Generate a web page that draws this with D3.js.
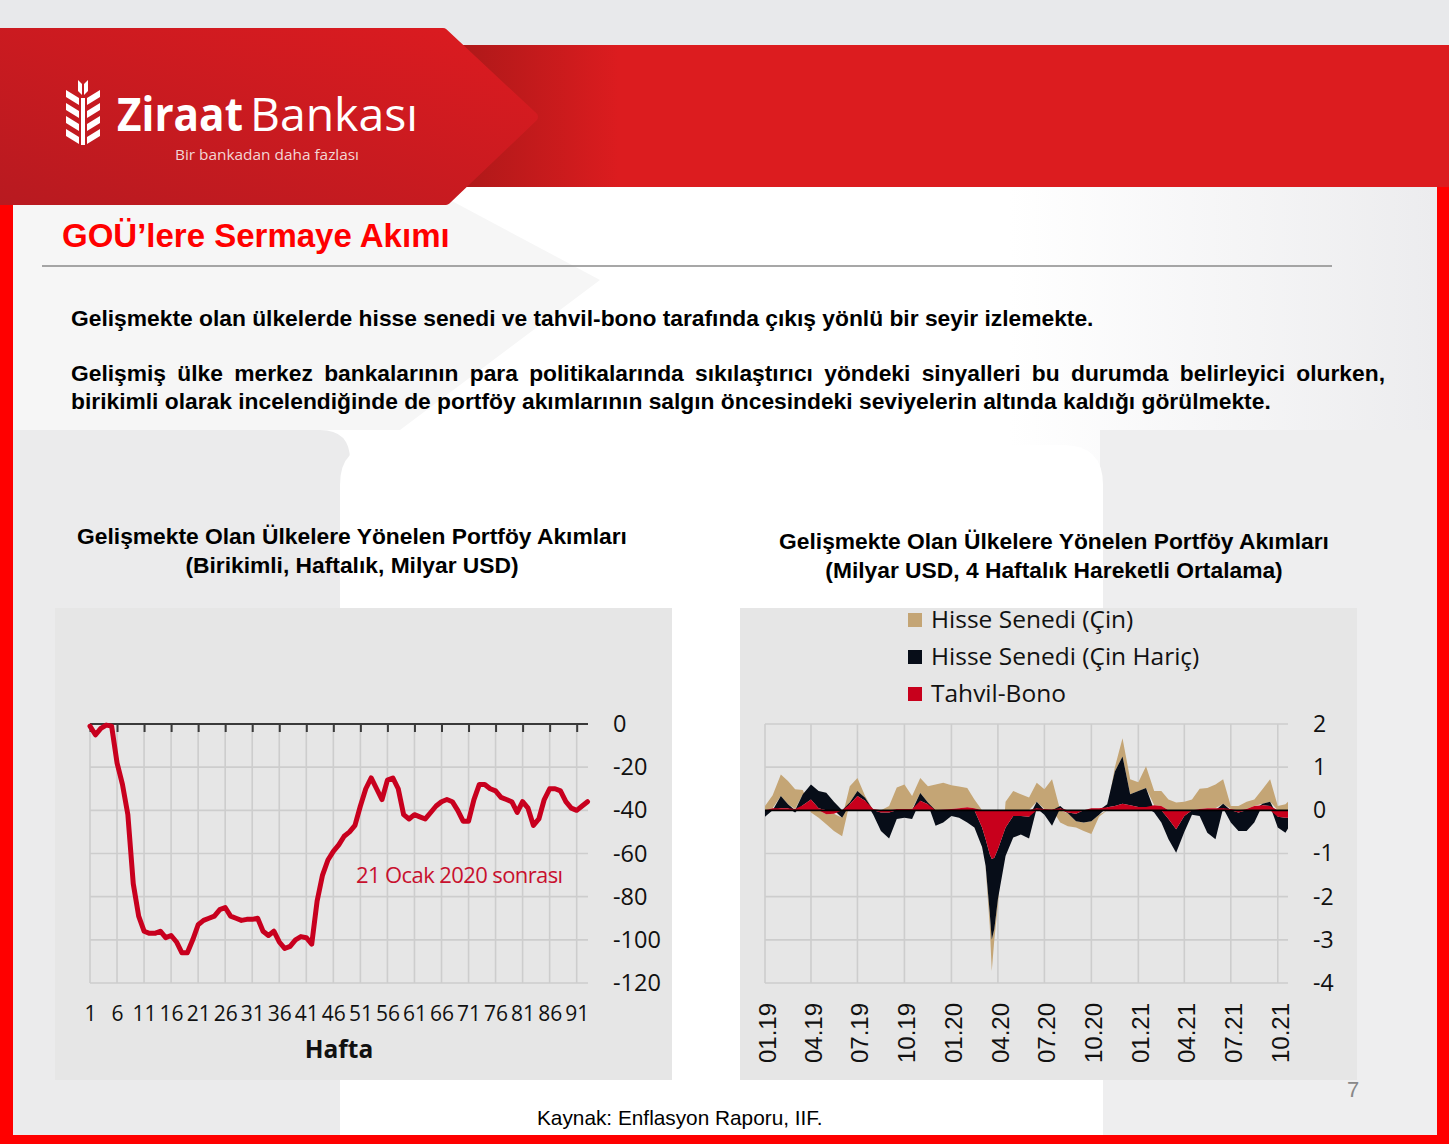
<!DOCTYPE html>
<html><head><meta charset="utf-8">
<script src="https://cdn.jsdelivr.net/npm/d3@7"></script>
<style>body{margin:0;background:#e8e9eb;} svg{display:block;}</style>
</head><body><svg id="s" width="1449" height="1144"></svg>
<script>
// ---------- DATA ----------
const pageTitle = "GOÜ’lere Sermaye Akımı";
const bodyLine1 = "Gelişmekte olan ülkelerde hisse senedi ve tahvil-bono tarafında çıkış yönlü bir seyir izlemekte.";
const bodyPara2a = "Gelişmiş ülke merkez bankalarının para politikalarında sıkılaştırıcı yöndeki sinyalleri bu durumda belirleyici olurken,";
const bodyPara2b = "birikimli olarak incelendiğinde de portföy akımlarının salgın öncesindeki seviyelerin altında kaldığı görülmekte.";
const leftTitle = ["Gelişmekte Olan Ülkelere Yönelen Portföy Akımları", "(Birikimli, Haftalık, Milyar USD)"];
const rightTitle = ["Gelişmekte Olan Ülkelere Yönelen Portföy Akımları", "(Milyar USD, 4 Haftalık Hareketli Ortalama)"];

// Left chart: cumulative weekly flows (weeks 1..93)
const cumulativeFlows = [-1,-5,-2,-0.5,-1,-18,-28,-42,-74,-89,-96,-97,-97,-96,-99,-98,-101,-106,-106,-100,
  -93,-91,-90,-89,-86,-85,-89,-90,-91,-90.5,-90.5,-90,-96,-98,-96,-101,-104,-103,-100,-98.5,
  -99,-102,-82,-70,-63,-59,-56,-52,-50,-47,-38,-30,-25,-30,-35,-26,-25,-30,-42,-44,
  -42,-43,-44,-41,-38,-36,-35,-36,-40,-45,-45,-35,-28,-28,-30,-31,-34,-35,-36,-41,
  -36,-39,-47,-44,-35,-30,-30,-31,-36,-39,-40,-38,-36];
const weekTicks = [1,6,11,16,21,26,31,36,41,46,51,56,61,66,71,76,81,86,91];
const leftYTicks = [0,-20,-40,-60,-80,-100,-120];
const annotation = "21 Ocak 2020 sonrası";
const leftXTitle = "Hafta";

// Right chart: 4-week moving average flows
const flowDates = ["2019-01-01","2019-01-16","2019-02-01","2019-02-15","2019-03-01","2019-03-16","2019-04-01","2019-04-16",
  "2019-05-01","2019-05-16","2019-06-01","2019-06-16","2019-07-01","2019-07-16","2019-08-01","2019-08-16",
  "2019-09-01","2019-09-16","2019-10-01","2019-10-16","2019-11-01","2019-11-16","2019-12-01","2019-12-16",
  "2020-01-01","2020-01-16","2020-02-01","2020-02-15","2020-03-01","2020-03-08","2020-03-16","2020-03-20",
  "2020-03-25","2020-04-01","2020-04-16","2020-05-01","2020-05-16","2020-06-01","2020-06-16","2020-07-01",
  "2020-07-16","2020-08-01","2020-08-16","2020-09-01","2020-09-16","2020-10-01","2020-10-16","2020-11-01",
  "2020-11-16","2020-12-01","2020-12-16","2021-01-01","2021-01-16","2021-02-01","2021-02-15","2021-03-01",
  "2021-03-16","2021-04-01","2021-04-16","2021-05-01","2021-05-16","2021-06-01","2021-06-16","2021-07-01",
  "2021-07-16","2021-08-01","2021-08-16","2021-09-01","2021-09-16","2021-10-01","2021-10-16","2021-10-21"];
const bondFlows = [0,0.05,0.05,0.05,0.03,0.12,0.25,0.05,-0.09,-0.08,0,0.14,0.33,0.22,0.03,-0.05,
  -0.05,0.03,0.03,0.03,0.22,0.14,0,0.02,0.03,0.05,0.07,0.05,-0.4,-0.67,-1.02,-1.13,
  -1.1,-0.9,-0.4,-0.13,-0.13,-0.15,0.05,0.03,0.02,0.05,-0.05,-0.08,0,0.05,0.05,0.07,
  0.1,0.15,0.12,0.08,0.08,0.12,0.1,-0.2,-0.44,-0.13,0,0.03,0.05,0.05,0.05,0.03,
  -0.05,0.03,0.1,0.12,0.1,-0.15,-0.17,-0.17];
const equityExChina = [-0.15,0,0.28,0.09,-0.05,0.25,0.35,0.4,0.41,0.2,-0.17,0.04,0.12,0.07,-0.1,-0.43,
  -0.6,-0.2,-0.17,-0.2,0.18,0.04,-0.36,-0.28,-0.13,-0.17,-0.28,-0.4,-0.45,-0.62,-1.35,-1.87,
  -1.65,-1.16,-0.66,-0.5,-0.43,-0.5,0.15,-0.1,-0.36,0.05,-0.02,-0.17,-0.28,-0.25,-0.1,0.07,
  0.8,1.1,0.25,0.37,0.44,-0.05,-0.28,-0.47,-0.54,-0.37,-0.1,-0.13,-0.52,-0.67,0.1,-0.28,
  -0.43,-0.48,-0.28,0.03,0.1,-0.25,-0.35,-0.25];
const equityChina = [0.1,0.3,0.5,0.54,0.46,0.1,-0.05,-0.17,-0.23,-0.4,-0.43,0.38,0.3,0.04,0,0,
  0.1,0.5,0.57,0.3,0.35,0.38,0.6,0.62,0.55,0.5,0.45,0.2,0,-0.05,-0.3,-0.72,
  -0.25,-0.14,0.2,0.45,0.37,0.3,0.44,0.46,0.7,-0.28,-0.3,-0.15,-0.2,-0.3,-0.05,0,
  0.1,0.42,0.35,0.2,0.5,0.33,0.35,0.25,0.18,0.2,0.25,0.47,0.47,0.55,0.57,0.07,
  0.1,0.17,0.15,0.34,0.52,0.1,0.14,0.2];
const quarterDates = ["2019-01-01","2019-04-01","2019-07-01","2019-10-01","2020-01-01","2020-04-01",
  "2020-07-01","2020-10-01","2021-01-01","2021-04-01","2021-07-01","2021-10-01"];
const quarterLabels = ["01.19","04.19","07.19","10.19","01.20","04.20","07.20","10.20","01.21","04.21","07.21","10.21"];
const rightYTicks = [2,1,0,-1,-2,-3,-4];
const seriesNames = ["Hisse Senedi (Çin)", "Hisse Senedi (Çin Hariç)", "Tahvil-Bono"];
const seriesColors = ["#c4a575", "#070d18", "#c8001c"];
const sourceText = "Kaynak: Enflasyon Raporu, IIF.";
const pageNumber = "7";

// ---------- DRAW ----------
const svg = d3.select('#s');
const defs = svg.append('defs');
const lg = defs.append('linearGradient').attr('id','logoGrad').attr('x1','0').attr('y1','1').attr('x2','1').attr('y2','0');
lg.append('stop').attr('offset','0').attr('stop-color','#b81a20');
lg.append('stop').attr('offset','1').attr('stop-color','#dc1b20');
const bg = defs.append('linearGradient').attr('id','bandGrad').attr('x1','0').attr('x2','1').attr('y1','0').attr('y2','0');
bg.append('stop').attr('offset','0').attr('stop-color','#a51818');
bg.append('stop').attr('offset','1').attr('stop-color','#dc1c1f');
const cg = defs.append('linearGradient').attr('id','contentGrad').attr('x1','0').attr('x2','1').attr('y1','0').attr('y2','0');
cg.append('stop').attr('offset','0').attr('stop-color','#ffffff');
cg.append('stop').attr('offset','0.7').attr('stop-color','#ffffff');
cg.append('stop').attr('offset','1').attr('stop-color','#ececee');

svg.append('rect').attr('width',1449).attr('height',1144).attr('fill','#e8e9eb');
// red banner
svg.append('rect').attr('x',430).attr('y',45).attr('width',1019).attr('height',142).attr('fill','#dc1c1f');
svg.append('rect').attr('x',430).attr('y',45).attr('width',190).attr('height',142).attr('fill','url(#bandGrad)');
// frame
svg.append('rect').attr('x',0).attr('y',187).attr('width',1449).attr('height',957).attr('fill','#ff0000');
svg.append('rect').attr('x',13).attr('y',187).attr('width',1424).attr('height',948).attr('fill','url(#contentGrad)');
// decorative background shapes
svg.append('polygon').attr('points','13,300 13,430 400,430 600,280 450,200 13,200').attr('fill','#f6f6f6');
svg.append('path').attr('d','M13,430 H320 Q350,430 350,460 V1135 H13 Z').attr('fill','#ebebec');
svg.append('rect').attr('x',1100).attr('y',430).attr('width',337).attr('height',705).attr('fill','#eeeeef');
svg.append('path').attr('d','M340,1135 V485 Q340,445 380,445 H1063 Q1103,445 1103,485 V1135 Z').attr('fill','#ffffff');

// logo shape
svg.append('path').attr('d','M-10,33 L443,33 L533,117 L446,200 L-10,200 Z')
  .attr('fill','url(#logoGrad)').attr('stroke','url(#logoGrad)').attr('stroke-width',10).attr('stroke-linejoin','round');
// wheat icon
const icon = svg.append('g').attr('fill','#ffffff');
icon.append('rect').attr('x',81).attr('y',98).attr('width',4).attr('height',47);
for (let k = 0; k < 4; k++) {
  const y0 = 90 + k * 13;
  icon.append('polygon').attr('points',`66,${y0} 79,${y0+8} 79,${y0+15} 66,${y0+7}`);
  icon.append('polygon').attr('points',`100,${y0} 87,${y0+8} 87,${y0+15} 100,${y0+7}`);
}
icon.append('polygon').attr('points','78,80 82,84 82,95 78,91');
icon.append('polygon').attr('points','88,80 84,84 84,95 88,91');
svg.append('text').attr('x',117).attr('y',131).attr('fill','#ffffff').attr('font-family','Open Sans, sans-serif')
  .attr('font-size',46).attr('font-weight','bold').attr('textLength',126).attr('lengthAdjust','spacingAndGlyphs').text('Ziraat');
svg.append('text').attr('x',250).attr('y',131).attr('fill','#ffffff').attr('font-family','Open Sans, sans-serif')
  .attr('font-size',46).attr('textLength',168).attr('lengthAdjust','spacingAndGlyphs').text('Bankası');
svg.append('text').attr('x',175).attr('y',160).attr('fill','#f3d6d6').attr('font-family','Open Sans, sans-serif')
  .attr('font-size',14).attr('textLength',184).attr('lengthAdjust','spacingAndGlyphs').text('Bir bankadan daha fazlası');

// title
svg.append('text').attr('x',62).attr('y',247).attr('fill','#ff0000').attr('font-family','Liberation Sans, Arial, sans-serif')
  .attr('font-weight','bold').attr('font-size',33).text(pageTitle);
svg.append('line').attr('x1',42).attr('x2',1332).attr('y1',266).attr('y2',266).attr('stroke','#8a8a8a').attr('stroke-width',1.5);

// body text
const bodyFont = sel => sel.attr('font-family','Liberation Sans, Arial, sans-serif').attr('font-weight','bold').attr('font-size',22.8).attr('fill','#000');
svg.append('text').attr('x',71).attr('y',326).call(bodyFont).text(bodyLine1);
function justifyLine(str, x, y, w) {
  const words = str.split(' ');
  const widths = words.map(wd => {
    const tmp = svg.append('text').call(bodyFont).text(wd);
    const len = tmp.node().getComputedTextLength(); tmp.remove(); return len;
  });
  const gap = (w - d3.sum(widths)) / (words.length - 1);
  const t = svg.append('text').attr('y', y).call(bodyFont);
  let cx = x;
  words.forEach((wd, i) => { t.append('tspan').attr('x', cx).text(wd); cx += widths[i] + gap; });
}
justifyLine(bodyPara2a, 71, 381, 1314);
svg.append('text').attr('x',71).attr('y',409).call(bodyFont).text(bodyPara2b);

// chart titles
const titleFont = sel => sel.attr('font-family','Liberation Sans, Arial, sans-serif').attr('font-weight','bold').attr('font-size',22.8).attr('fill','#000').attr('text-anchor','middle');
svg.append('text').attr('x',352).attr('y',544).call(titleFont).text(leftTitle[0]);
svg.append('text').attr('x',352).attr('y',573).call(titleFont).text(leftTitle[1]);
svg.append('text').attr('x',1054).attr('y',549).call(titleFont).text(rightTitle[0]);
svg.append('text').attr('x',1054).attr('y',578).call(titleFont).text(rightTitle[1]);

// chart panels
svg.append('rect').attr('x',55).attr('y',608).attr('width',617).attr('height',472).attr('fill','#e6e6e6');
svg.append('rect').attr('x',740).attr('y',608).attr('width',617).attr('height',472).attr('fill','#e6e6e6');

// ---------- LEFT CHART ----------
const xL = d3.scaleLinear().domain([1, 93]).range([90, 587.5]);
const yL = d3.scaleLinear().domain([-120, 0]).range([983, 724]);
const gL = svg.append('g');
gL.selectAll('line.h').data(leftYTicks.filter(d => d !== 0)).join('line')
  .attr('x1', 90).attr('x2', 588).attr('y1', d => yL(d)).attr('y2', d => yL(d))
  .attr('stroke', '#cdcdcd').attr('stroke-width', 1.6);
gL.selectAll('line.v').data(weekTicks).join('line')
  .attr('x1', d => xL(d)).attr('x2', d => xL(d)).attr('y1', 724).attr('y2', 983)
  .attr('stroke', '#cdcdcd').attr('stroke-width', 1.6);
// top axis line with ticks
const topAxis = gL.append('g').attr('transform','translate(0,724)')
  .call(d3.axisBottom(xL).tickValues(weekTicks).tickSize(8).tickSizeOuter(0).tickFormat(''));
topAxis.select('.domain').attr('stroke','#3a3a3a').attr('stroke-width',2).attr('d','M90,0H588');
topAxis.selectAll('.tick line').attr('stroke','#3a3a3a').attr('stroke-width',2);
// y labels right
const yAxL = gL.append('g').attr('transform','translate(613,0)')
  .call(d3.axisRight(yL).tickValues(leftYTicks).tickSize(0).tickPadding(0).tickFormat(d => String(d)));
yAxL.select('.domain').remove();
yAxL.selectAll('text').attr('font-family','Open Sans, sans-serif').attr('font-size',23.5).attr('fill','#111');
// x labels
const xAxL = gL.append('g').attr('transform','translate(0,1003)')
  .call(d3.axisBottom(xL).tickValues(weekTicks).tickSize(0).tickPadding(3));
xAxL.select('.domain').remove();
xAxL.selectAll('text').attr('font-family','Open Sans, sans-serif').attr('font-size',21).attr('fill','#111');
gL.append('text').attr('x',339).attr('y',1058).attr('text-anchor','middle').attr('font-family','Open Sans, sans-serif')
  .attr('font-weight','bold').attr('font-size',24.5).attr('fill','#111').text(leftXTitle);
// line
gL.append('path').datum(cumulativeFlows)
  .attr('d', d3.line().x((d, i) => xL(i + 1)).y(d => yL(d)))
  .attr('fill','none').attr('stroke','#c8001e').attr('stroke-width',5).attr('stroke-linejoin','round').attr('stroke-linecap','round');
gL.append('text').attr('x',356).attr('y',883).attr('font-family','Open Sans, sans-serif').attr('font-size',22)
  .attr('letter-spacing',-0.6).attr('fill','#c8102e').text(annotation);

// ---------- RIGHT CHART ----------
const parse = d3.timeParse('%Y-%m-%d');
const rows = flowDates.map((d, i) => ({date: parse(d), bond: bondFlows[i], eqx: equityExChina[i], eqc: equityChina[i]}));
const xR = d3.scaleTime().domain([parse('2019-01-01'), parse('2021-10-21')]).range([765, 1288]);
const yR = d3.scaleLinear().domain([-4, 2]).range([983, 724]);
const gR = svg.append('g');
gR.selectAll('line.h').data(rightYTicks.filter(d => d !== 0)).join('line')
  .attr('x1', 765).attr('x2', 1288).attr('y1', d => yR(d)).attr('y2', d => yR(d))
  .attr('stroke', '#cdcdcd').attr('stroke-width', 1.6);
gR.selectAll('line.v').data(quarterDates.map(parse)).join('line')
  .attr('x1', d => xR(d)).attr('x2', d => xR(d)).attr('y1', 724).attr('y2', 983)
  .attr('stroke', '#cdcdcd').attr('stroke-width', 1.6);
const stack = d3.stack().keys(['bond','eqx','eqc']).offset(d3.stackOffsetDiverging);
const layers = stack(rows);
const colorByKey = {eqc: seriesColors[0], eqx: seriesColors[1], bond: seriesColors[2]};
const area = d3.area().x(d => xR(d.data.date)).y0(d => yR(d[0])).y1(d => yR(d[1]));
gR.selectAll('path.layer').data(layers.slice().reverse()).join('path')
  .attr('d', area).attr('fill', d => colorByKey[d.key]);
gR.append('line').attr('x1',765).attr('x2',1288).attr('y1',yR(0)).attr('y2',yR(0)).attr('stroke','#000').attr('stroke-width',1.6);
const yAxR = gR.append('g').attr('transform','translate(1313,0)')
  .call(d3.axisRight(yR).tickValues(rightYTicks).tickSize(0).tickPadding(0).tickFormat(d => String(d)));
yAxR.select('.domain').remove();
yAxR.selectAll('text').attr('font-family','Open Sans, sans-serif').attr('font-size',23).attr('fill','#111');
gR.selectAll('text.q').data(quarterDates).join('text')
  .attr('transform', d => `translate(${xR(parse(d)) + 11},1003) rotate(-90)`)
  .attr('text-anchor','end').attr('font-family','Liberation Sans, Arial, sans-serif').attr('font-size',24).attr('fill','#111')
  .text((d, i) => quarterLabels[i]);
// legend
const lgG = gR.append('g');
seriesNames.forEach((name, i) => {
  const cy = 620 + i * 37;
  lgG.append('rect').attr('x',908).attr('y',cy - 7).attr('width',14).attr('height',14).attr('fill',seriesColors[i]);
  lgG.append('text').attr('x',931).attr('y',cy + 8).attr('font-family','Open Sans, sans-serif').attr('font-size',24.5)
    .attr('fill','#111').text(name);
});

// footer
svg.append('text').attr('x',1353).attr('y',1097).attr('text-anchor','middle').attr('font-family','Liberation Sans, Arial, sans-serif')
  .attr('font-size',22).attr('fill','#888').text(pageNumber);
svg.append('text').attr('x',537).attr('y',1125).attr('font-family','Liberation Sans, Arial, sans-serif')
  .attr('font-size',20.8).attr('fill','#000').text(sourceText);
</script></body></html>
